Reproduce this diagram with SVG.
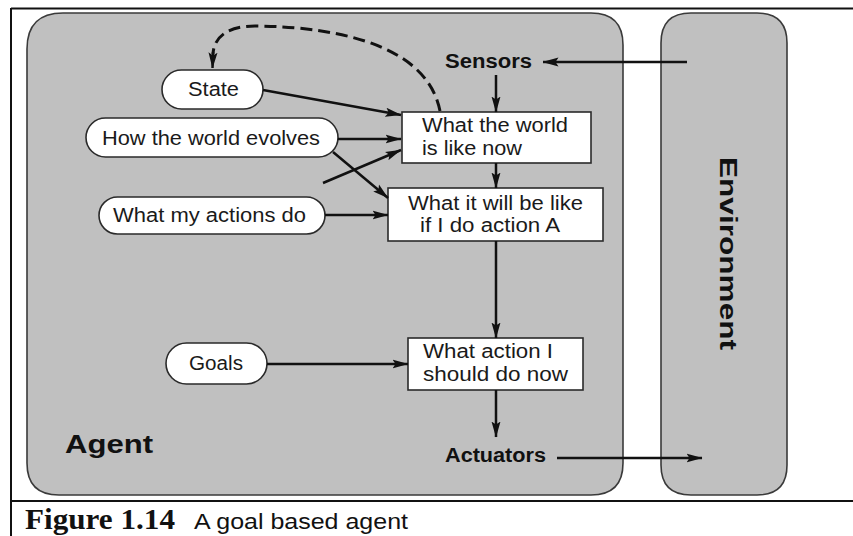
<svg xmlns="http://www.w3.org/2000/svg" width="853" height="536" viewBox="0 0 853 536">
  <style>
    .panel { fill: #c0c0c0; stroke: #3a3a3a; stroke-width: 1.6; }
    .pill { fill: #ffffff; stroke: #2a2a2a; stroke-width: 1.6; }
    .box { fill: #ffffff; stroke: #2a2a2a; stroke-width: 1.6; }
    .lbl { font-family: "Liberation Sans", Arial, sans-serif; font-size: 20px; fill: #1a1a1a; }
    .bold { font-family: "Liberation Sans", Arial, sans-serif; font-weight: bold; fill: #111111; }
    .wire { fill: none; stroke: #111111; stroke-width: 2.5; }
    .dash { fill: none; stroke: #111111; stroke-width: 3; stroke-dasharray: 12 6; }
    .frame { stroke: #111111; stroke-width: 2; }
  </style>
  <defs>
    <marker id="arrow" viewBox="0 0 16 10" refX="15.5" refY="5" markerWidth="16" markerHeight="10" markerUnits="userSpaceOnUse" orient="auto">
      <path d="M0,0.5 L16,5 L0,9.5 L3,5 Z" fill="#111111"/>
    </marker>
  </defs>

  <rect x="0" y="0" width="853" height="536" fill="#ffffff"/>

  <!-- figure frame -->
  <line class="frame" x1="11" y1="8.5" x2="853" y2="8.5"/>
  <line class="frame" x1="11" y1="8" x2="11" y2="536"/>
  <line class="frame" x1="11" y1="501" x2="853" y2="501" stroke-width="1.6"/>

  <!-- agent and environment panels -->
  <g id="agent">
    <path class="panel" d="M63 13 H591 Q623 13 623 45 V463 Q623 495 591 495 H59 Q27 495 27 463 V49 Q27 13 63 13 Z"/>
    <text class="bold" x="65" y="453" font-size="26" textLength="88" lengthAdjust="spacingAndGlyphs">Agent</text>
  </g>
  <g id="environment">
    <path class="panel" d="M691 13 H757 Q787 13 787 43 V465 Q787 495 757 495 H691 Q661 495 661 465 V43 Q661 13 691 13 Z"/>
    <text class="bold" transform="translate(720,157) rotate(90)" x="0" y="0" font-size="24" textLength="193" lengthAdjust="spacingAndGlyphs">Environment</text>
  </g>

  <!-- sensors / actuators labels -->
  <g id="sensors">
    <text class="bold" x="445" y="68" font-size="20" textLength="87" lengthAdjust="spacingAndGlyphs">Sensors</text>
  </g>
  <g id="actuators">
    <text class="bold" x="445" y="462" font-size="20" textLength="101" lengthAdjust="spacingAndGlyphs">Actuators</text>
  </g>

  <!-- knowledge ovals -->
  <g id="state">
    <rect class="pill" x="162" y="70" width="101" height="39" rx="19.5"/>
    <text class="lbl" x="188" y="96" textLength="51" lengthAdjust="spacingAndGlyphs">State</text>
  </g>
  <g id="world-evolves">
    <rect class="pill" x="86" y="118" width="252" height="39" rx="19.5"/>
    <text class="lbl" x="102" y="145" textLength="218" lengthAdjust="spacingAndGlyphs">How the world evolves</text>
  </g>
  <g id="actions-do">
    <rect class="pill" x="99" y="197" width="226" height="37" rx="18.5"/>
    <text class="lbl" x="113" y="222" textLength="193" lengthAdjust="spacingAndGlyphs">What my actions do</text>
  </g>
  <g id="goals">
    <rect class="pill" x="166" y="343" width="101" height="41" rx="20.5"/>
    <text class="lbl" x="189" y="370" textLength="54" lengthAdjust="spacingAndGlyphs">Goals</text>
  </g>

  <!-- reasoning boxes -->
  <g id="world-now">
    <rect class="box" x="402" y="112" width="189" height="51"/>
    <text class="lbl" x="422" y="132" textLength="146" lengthAdjust="spacingAndGlyphs">What the world</text>
    <text class="lbl" x="422" y="155" textLength="100" lengthAdjust="spacingAndGlyphs">is like now</text>
  </g>
  <g id="world-after">
    <rect class="box" x="388" y="188" width="215" height="53"/>
    <text class="lbl" x="408" y="210" textLength="175" lengthAdjust="spacingAndGlyphs">What it will be like</text>
    <text class="lbl" x="420" y="232" textLength="140" lengthAdjust="spacingAndGlyphs">if I do action A</text>
  </g>
  <g id="choose-action">
    <rect class="box" x="408" y="338" width="175" height="52"/>
    <text class="lbl" x="423" y="358" textLength="130" lengthAdjust="spacingAndGlyphs">What action I</text>
    <text class="lbl" x="423" y="381" textLength="145" lengthAdjust="spacingAndGlyphs">should do now</text>
  </g>

  <!-- connectors -->
  <g id="connectors">
    <path class="dash" d="M440 111 C428 50 350 27 255 26 C226 26 214 38 213 54"/>
    <line class="wire" x1="213" y1="52" x2="212.5" y2="68" marker-end="url(#arrow)"/>
    <line class="wire" x1="687" y1="62" x2="543" y2="62" marker-end="url(#arrow)"/>
    <line class="wire" x1="496" y1="75" x2="496" y2="112" marker-end="url(#arrow)"/>
    <line class="wire" x1="496" y1="163" x2="496" y2="188" marker-end="url(#arrow)"/>
    <line class="wire" x1="496" y1="241" x2="496" y2="338" marker-end="url(#arrow)"/>
    <line class="wire" x1="496" y1="390" x2="496" y2="437" marker-end="url(#arrow)"/>
    <line class="wire" x1="557" y1="458" x2="702" y2="458" marker-end="url(#arrow)"/>
    <line class="wire" x1="263" y1="90" x2="401" y2="115" marker-end="url(#arrow)"/>
    <line class="wire" x1="338" y1="139" x2="401" y2="139" marker-end="url(#arrow)"/>
    <line class="wire" x1="333" y1="152" x2="388" y2="198" marker-end="url(#arrow)"/>
    <line class="wire" x1="323" y1="183" x2="401" y2="150" marker-end="url(#arrow)"/>
    <line class="wire" x1="325" y1="215" x2="388" y2="215" marker-end="url(#arrow)"/>
    <line class="wire" x1="267" y1="364" x2="408" y2="364" marker-end="url(#arrow)"/>
  </g>

  <!-- caption -->
  <g id="caption">
    <text x="25" y="529" font-family="'Liberation Serif', 'Times New Roman', serif" font-weight="bold" font-size="30" fill="#111111" textLength="150" lengthAdjust="spacingAndGlyphs">Figure 1.14</text>
    <text x="194" y="529" font-family="'Liberation Sans', Arial, sans-serif" font-size="22" fill="#111111" textLength="214" lengthAdjust="spacingAndGlyphs">A goal based agent</text>
  </g>
</svg>
